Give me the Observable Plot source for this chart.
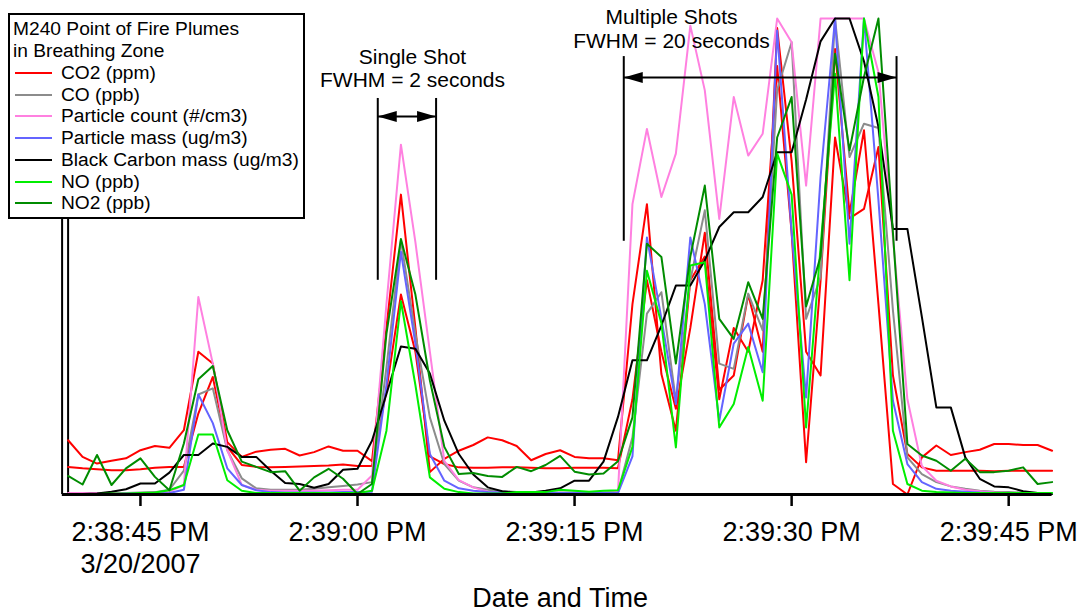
<!DOCTYPE html>
<html>
<head>
<meta charset="utf-8">
<script src="https://cdn.jsdelivr.net/npm/d3@7"></script>
<script src="https://cdn.jsdelivr.net/npm/@observablehq/plot@0.6"></script>
<style>
  body { margin: 0; background: #fff; font-family: "Liberation Sans", Arial, sans-serif; }
  #wrap { position: relative; width: 1083px; height: 615px; }
  #legend {
    position: absolute; left: 8px; top: 13px; width: 297px; height: 206px;
    border: 2px solid #000; background: #fff; font-size: 19.2px; line-height: 21.75px;
    padding: 3.4px 0 0 3px; box-sizing: border-box; color: #000;
  }
  #legend .row { display: flex; align-items: center; height: 21.75px; white-space: nowrap; }
  #legend .swatch { width: 37px; height: 0; border-top: 2px solid; margin: 0 9px 0 2px; }
</style>
</head>
<body>
<div id="wrap"><div id="legend"></div></div>
<script>
// Sampling: one reading per second starting at 2:38:40 PM, 3/20/2007
const startTime = Date.UTC(2007, 2, 20, 14, 38, 40);

// Relative concentration (percent of display full scale), one value per second
const co2 = [11.4, 7.9, 6.5, 7.1, 7.6, 9.3, 10.2, 9.8, 13.5, 30, 27.5, 11, 7.9, 9, 9.4, 9.6, 8.2, 8.9, 10.1, 9.2,
  9.2, 7, 35, 63, 35, 4.7, 7.5, 9.2, 10.4, 12, 11.4, 10.2, 7.2, 8.5, 9.3, 7.9, 7.6, 7.6, 7.2, 40,
  61, 25.3, 13.4, 45, 50, 20, 35, 30, 45, 90, 55, 6.8, 45, 93.6, 59, 76.5, 40, 2.2, 0, 7.8,
  10.3, 8.3, 8.9, 9.4, 10.6, 10.6, 10.4, 10.4, 9.2];
const co2Second = [5.8, 5.5, 5.3, 5.1, 5.1, 5.3, 5.6, 5.8, 5.8, 17, 24.7, 10, 6.2, 5.8, 5.7, 5.8, 5.9, 6, 6.1, 6.3,
  6, 6, 22, 42, 30, 8, 6.4, 5.7, 5.6, 5.6, 5.7, 5.7, 5.6, 5.5, 5.5, 5.6, 5.6, 5.6, 5.5, 20,
  45, 30, 18, 35, 55, 22, 25, 42, 30, 98, 70, 30, 25, 75, 58, 60, 73, 25, 8.5, 5.7,
  5, 5, 5, 5, 4.9, 5, 5, 5, 5];
const co = [0.2, 0.2, 0.2, 0.3, 0.3, 0.4, 0.5, 1, 5, 21, 22.3, 9.3, 3.4, 1.3, 1, 1, 1, 1.2, 1.5, 1.8,
  2.1, 2.6, 26.7, 53.4, 33.8, 16.2, 6.4, 2.9, 1.5, 1, 0.7, 0.5, 0.5, 0.4, 0.4, 0.4, 0.4, 0.4, 0.5, 12,
  38, 42.5, 19.7, 45, 59.7, 27.5, 26.4, 42.2, 34.5, 85, 95, 36.9, 45.7, 100, 70.9, 77.9, 77, 38.7, 7.8, 4.3,
  2.6, 1.7, 1.2, 0.8, 0.6, 0.5, 0.4, 0.3, 0.3];
const particleCount = [0.3, 0.3, 0.3, 0.3, 0.3, 0.3, 0.3, 0.6, 2, 41.5, 27.5, 9.3, 2, 1, 0.8, 0.8, 0.8, 0.8, 0.9, 1,
  1, 4, 40, 73.5, 53, 30, 7, 3, 1.5, 0.6, 0.3, 0.2, 0.2, 0.2, 0.2, 0.2, 0.2, 0.2, 0.5, 61,
  76.8, 62.5, 71.6, 98.5, 84.9, 57.9, 83.5, 71.2, 75.8, 100, 95, 64.9, 100, 100, 100, 100, 88.7, 54, 20, 6,
  2.9, 1.7, 1, 0.7, 0.4, 0.3, 0.2, 0.2, 0.2];
const particleMass = [0.1, 0.1, 0.1, 0.1, 0.2, 0.2, 0.2, 0.3, 1, 21, 15, 5.5, 2, 0.9, 0.5, 0.4, 0.4, 0.4, 0.4, 0.5,
  0.5, 0.6, 23, 51, 31.7, 8.5, 2.9, 1.3, 0.8, 0.5, 0.4, 0.3, 0.3, 0.3, 0.3, 0.3, 0.3, 0.3, 0.3, 8,
  54, 37, 19, 54, 40, 15.5, 31.7, 35.9, 25.7, 97.5, 55, 20.4, 66.7, 100, 52.7, 100, 61.8, 19.7, 6.4, 2.6,
  1.2, 0.8, 0.6, 0.4, 0.3, 0.3, 0.2, 0.2, 0.2];
const blackCarbon = [0.1, 0.1, 0.2, 0.6, 1.1, 2.3, 2.3, 4.6, 8.3, 8.3, 10.7, 10, 7.9, 7.9, 5, 2.4, 2.2, 1.4, 2.2, 5.2,
  5.4, 11.3, 21.1, 31.1, 30.6, 25.4, 15.5, 8.5, 4.2, 1.5, 0.7, 0.4, 0.4, 0.8, 1.3, 2.9, 2.9, 6.9, 16.3, 28.2,
  28.2, 35.5, 43.9, 43.9, 49.2, 56.2, 59.3, 59.3, 62.5, 71.9, 71.9, 83, 95.2, 100, 100, 91, 77.2, 55.8, 55.8, 37.3,
  18.3, 18.3, 7.8, 3.3, 1.7, 1.5, 0.7, 0.3, 0.1];
const no = [0.1, 0.1, 0.1, 0.2, 0.2, 0.3, 0.4, 0.9, 2, 12.6, 12.6, 3, 0.8, 0.3, 0.3, 0.3, 0.3, 0.3, 0.3, 0.3,
  0.3, 0.8, 13.4, 40.6, 23, 3.6, 1.2, 0.5, 0.2, 0.2, 0.2, 0.5, 0.5, 0.5, 1, 0.8, 0.6, 0.8, 0.9, 10,
  47, 36, 9.9, 48.1, 48.8, 14.1, 19, 31, 19.7, 71.6, 63, 14.1, 52, 88.4, 45, 100, 83.5, 13.4, 2.2, 0.8,
  0.5, 0.4, 0.3, 0.3, 0.3, 0.3, 0.3, 0.3, 0.3];
const no2 = [3.9, 2.1, 8.3, 2, 5.5, 7.6, 3.7, 0.9, 10.7, 24.2, 27, 13.5, 6.9, 5.8, 4.7, 4.9, 0.8, 3.6, 5.4, 3.3,
  0.1, 2.2, 33.8, 53.7, 42, 24, 10, 4.3, 4.5, 3.9, 3.7, 5.8, 4.9, 6.2, 8.1, 4.8, 4.2, 4.4, 7, 16.2,
  52.7, 49.9, 27.5, 50, 64.9, 36.9, 32.7, 44.6, 36.9, 75, 83.5, 39.5, 50, 92.6, 72.3, 87.7, 100, 55, 10.6, 8.2,
  7.1, 5, 7.5, 4.7, 4.7, 5, 5.7, 2.2, 2.6];

const legendTitle = ["M240 Point of Fire Plumes", "in Breathing Zone"];
const seriesNames = ["CO2 (ppm)", "CO (ppb)", "Particle count (#/cm3)", "Particle mass (ug/m3)",
  "Black Carbon mass (ug/m3)", "NO (ppb)", "NO2 (ppb)"];
const seriesColors = ["#ff0000", "#8c8c8c", "#ff80e0", "#6464ff", "#000000", "#00ee00", "#008c00"];
const seriesValues = [co2, co, particleCount, particleMass, blackCarbon, no, no2];

// x-axis ticks every 15 seconds
const tickSeconds = [5, 20, 35, 50, 65];
const tickLabels = ["2:38:45 PM\n3/20/2007", "2:39:00 PM", "2:39:15 PM", "2:39:30 PM", "2:39:45 PM"];
const axisTitle = "Date and Time";

// FWHM brackets: seconds after start for each side, heights in display units
const brackets = [
  {left: 21.4, right: 25.43, top: 83.2, bottom: 45, arrow: 79.4},
  {left: 38.4, right: 57.25, top: 92, bottom: 53.2, arrow: 87.6}
];
const bracketTexts = [
  {t: 23.8, v: 89.6, text: "Single Shot\nFWHM = 2 seconds"},
  {t: 41.7, v: 97.9, text: "Multiple Shots\nFWHM = 20 seconds"}
];

const at = (s) => new Date(startTime + s * 1000);
const toRows = (values) => values.map((v, i) => ({time: at(i), value: v}));

// arrowhead pointing along +x with its tip at the origin
const arrowHead = {draw(ctx) { ctx.moveTo(0, 0); ctx.lineTo(-19, -5.5); ctx.lineTo(-19, 5.5); ctx.closePath(); }};
const heads = brackets.flatMap(b => [
  {time: at(b.left), v: b.arrow, rotate: 180},
  {time: at(b.right), v: b.arrow, rotate: 0}
]);
const sides = brackets.flatMap(b => [
  {time: at(b.left), y1: b.bottom, y2: b.top},
  {time: at(b.right), y1: b.bottom, y2: b.top}
]);

const lineMarks = [];
lineMarks.push(Plot.line(toRows(co2Second), {x: "time", y: "value", stroke: seriesColors[0], strokeWidth: 2}));
seriesValues.forEach((vals, k) => {
  lineMarks.push(Plot.line(toRows(vals), {x: "time", y: "value", stroke: seriesColors[k], strokeWidth: 2}));
});

const labelOf = new Map(tickSeconds.map((s, i) => [+at(s), tickLabels[i]]));

const chart = Plot.plot({
  width: 1083,
  height: 615,
  marginLeft: 67.6,
  marginRight: 31.4,
  marginTop: 18,
  marginBottom: 121,
  style: {fontFamily: "'Liberation Sans', Arial, sans-serif", background: "#fff", color: "#000"},
  x: {type: "utc", domain: [at(0), at(68)]},
  y: {domain: [0, 100], axis: null},
  marks: [
    Plot.ruleX([at(0)], {y1: 0, y2: 100, strokeWidth: 2, dx: -6}),
    Plot.ruleX([at(0)], {y1: 0, y2: 100, strokeWidth: 2}),
    ...lineMarks,
    Plot.ruleY([0], {x1: at(-0.4), x2: at(68), strokeWidth: 3}),
    Plot.axisX(tickSeconds.map(at), {
      tickSize: 12, strokeWidth: 2.5, tickPadding: 11, fontSize: 27, lineHeight: 1.2,
      tickFormat: d => labelOf.get(+d), label: null
    }),
    Plot.text([axisTitle], {frameAnchor: "bottom", dy: 112, fontSize: 27}),
    Plot.ruleX(sides, {x: "time", y1: "y1", y2: "y2", strokeWidth: 2}),
    Plot.ruleY(brackets, {y: "arrow", x1: b => at(b.left), x2: b => at(b.right), strokeWidth: 2}),
    Plot.dot(heads, {x: "time", y: "v", rotate: "rotate", symbol: arrowHead, fill: "#000", stroke: "none", r: 4}),
    Plot.text(bracketTexts, {x: d => at(d.t), y: "v", text: "text", fontSize: 21, lineHeight: 1.12})
  ]
});
document.getElementById("wrap").prepend(chart);

// legend box
const legend = d3.select("#legend");
legendTitle.forEach(t => legend.append("div").attr("class", "row").text(t));
seriesNames.forEach((name, k) => {
  const row = legend.append("div").attr("class", "row");
  row.append("span").attr("class", "swatch").style("border-color", seriesColors[k]);
  row.append("span").text(name);
});
</script>
</body>
</html>
